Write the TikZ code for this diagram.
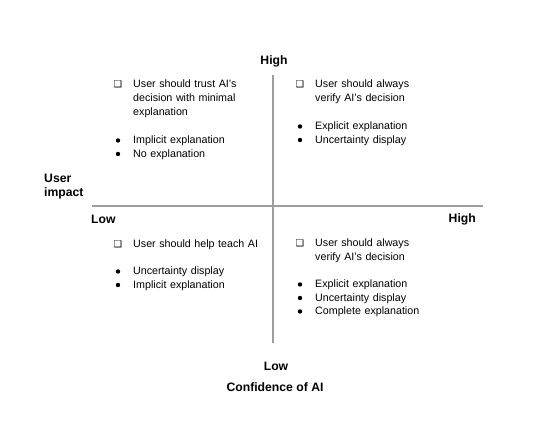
\documentclass[tikz,border=0pt]{standalone}
\usepackage{fontspec}
\setmainfont{Liberation Sans}
\newfontfamily\markfont{DejaVu Sans}
\usetikzlibrary{positioning}

\tikzset{
  axis/.style={draw=black!38, line width=1.6pt},
  axislabel/.style={inner sep=0pt, font=\bfseries\fontsize{12.2}{14}\selectfont},
  item/.style={anchor=base west, align=left, text width=160pt, inner sep=0pt,
    font=\fontsize{10.7}{14}\selectfont},
  boxmark/.style={anchor=base, inner sep=0pt, font=\markfont\fontsize{9.5}{10}\selectfont},
  dotmark/.style={circle, fill=black, inner sep=0pt, minimum size=4.4pt}
}

\begin{document}
\begin{tikzpicture}[x=1pt, y=1pt]
    \useasboundingbox (0,0) rectangle (533,427);

    % axes
    \coordinate (left) at (92, 221);
    \coordinate (right) at (483, 221);
    \coordinate (top) at (273, 352);
    \coordinate (bottom) at (273, 84);
    \draw[axis] (left) -- (right);
    \draw[axis] (top) -- (bottom);

    % axis labels
    \node[axislabel, anchor=base] (yhigh) at (274, 362) {High};
    \node[axislabel, anchor=base] (ylow) at (276, 56) {Low};
    \node[axislabel, anchor=base] (xtitle) at (275, 35) {Confidence of AI};
    \node[axislabel, anchor=base west] (xlow) at (91, 203) {Low};
    \node[axislabel, anchor=base east] (xhigh) at (476, 204) {High};
    \node[axislabel, anchor=base west, align=left] (ytitle) at (44, 230) {User\\impact};

    % top left
    \node[boxmark] (tl-box) at (118, 339) {❑};
    \node[item] (tl-q) at (133, 339) {User should trust AI’s\\decision with minimal\\explanation};
    \node[dotmark] (tl-d1) at (118, 286.5) {};
    \node[dotmark] (tl-d2) at (118, 273) {};
    \node[item] (tl-b1) at (133, 283) {Implicit explanation};
    \node[item] (tl-b2) at (133, 269.5) {No explanation};

    % top right
    \node[boxmark] (tr-box) at (300, 339) {❑};
    \node[item] (tr-q) at (315, 339) {User should always\\verify AI’s decision};
    \node[dotmark] (tr-d1) at (300, 300.5) {};
    \node[dotmark] (tr-d2) at (300, 287) {};
    \node[item] (tr-b1) at (315, 297) {Explicit explanation};
    \node[item] (tr-b2) at (315, 283.5) {Uncertainty display};

    % bottom left
    \node[boxmark] (bl-box) at (118, 179.5) {❑};
    \node[item] (bl-q) at (133, 179.5) {User should help teach AI};
    \node[dotmark] (bl-d1) at (118, 155.5) {};
    \node[dotmark] (bl-d2) at (118, 142) {};
    \node[item] (bl-b1) at (133, 152) {Uncertainty display};
    \node[item] (bl-b2) at (133, 138.5) {Implicit explanation};

    % bottom right
    \node[boxmark] (br-box) at (300, 180) {❑};
    \node[item] (br-q) at (315, 180) {User should always\\verify AI’s decision};
    \node[dotmark] (br-d1) at (300, 142.5) {};
    \node[dotmark] (br-d2) at (300, 129) {};
    \node[dotmark] (br-d3) at (300, 115.5) {};
    \node[item] (br-b1) at (315, 139) {Explicit explanation};
    \node[item] (br-b2) at (315, 125.5) {Uncertainty display};
    \node[item] (br-b3) at (315, 112) {Complete explanation};
\end{tikzpicture}
\end{document}
